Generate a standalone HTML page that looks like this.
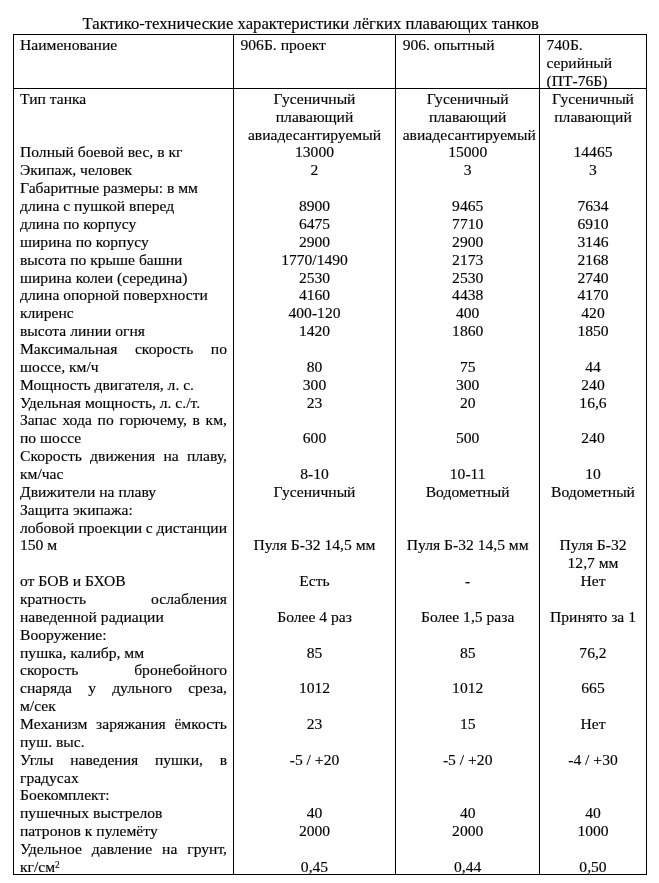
<!DOCTYPE html>
<html><head><meta charset="utf-8">
<style>
html,body{margin:0;padding:0;background:#fff;}
body{width:659px;height:883px;position:relative;overflow:hidden;font-family:"Liberation Serif",serif;color:#000;}
.t{position:absolute;-webkit-text-stroke:0.15px #000;font-size:15.6px;line-height:17.86px;height:17.86px;white-space:nowrap;}
.c{text-align:center;}
.j{display:flex;justify-content:space-between;}
.ttl{position:absolute;-webkit-text-stroke:0.15px #000;font-size:16.66px;line-height:20px;white-space:nowrap;}
.h{position:absolute;height:1px;background:#000;}
.v{position:absolute;width:1px;background:#000;}
sup{font-size:0.6em;line-height:0;vertical-align:0.45em;}
#pg{position:absolute;left:0;top:0;width:659px;height:883px;will-change:transform;}
</style></head><body><div id="pg">
<div class="ttl" style="top:14.20px;left:82.5px">Тактико-технические характеристики лёгких плавающих танков</div>
<div class="h" style="top:34px;left:13px;width:634px"></div>
<div class="h" style="top:88px;left:13px;width:634px"></div>
<div class="h" style="top:874px;left:13px;width:634px"></div>
<div class="v" style="top:34px;left:13px;height:841px"></div>
<div class="v" style="top:34px;left:233px;height:841px"></div>
<div class="v" style="top:34px;left:395px;height:841px"></div>
<div class="v" style="top:34px;left:539px;height:841px"></div>
<div class="v" style="top:34px;left:646px;height:841px"></div>
<div class="t " style="top:36.00px;left:20px;width:207px">Наименование</div>
<div class="t " style="top:36.00px;left:240.5px;width:148px">906Б. проект</div>
<div class="t " style="top:36.00px;left:402.7px;width:130px">906. опытный</div>
<div class="t " style="top:36.00px;left:546.5px;width:93px">740Б.</div>
<div class="t " style="top:53.90px;left:546.5px;width:93px">серийный</div>
<div class="t " style="top:71.80px;left:546.5px;width:93px">(ПТ-76Б)</div>
<div class="t " style="top:89.90px;left:20px;width:207px">Тип танка</div>
<div class="t c" style="top:89.90px;left:240.5px;width:148px">Гусеничный</div>
<div class="t c" style="top:89.90px;left:402.7px;width:130px">Гусеничный</div>
<div class="t c" style="top:89.90px;left:546.5px;width:93px">Гусеничный</div>
<div class="t c" style="top:107.76px;left:240.5px;width:148px">плавающий</div>
<div class="t c" style="top:107.76px;left:402.7px;width:130px">плавающий</div>
<div class="t c" style="top:107.76px;left:546.5px;width:93px">плавающий</div>
<div class="t c" style="top:125.62px;left:240.5px;width:148px">авиадесантируемый</div>
<div class="t c" style="top:125.62px;left:402.7px;width:130px">авиадесантируемый</div>
<div class="t " style="top:143.48px;left:20px;width:207px">Полный боевой вес, в кг</div>
<div class="t c" style="top:143.48px;left:240.5px;width:148px">13000</div>
<div class="t c" style="top:143.48px;left:402.7px;width:130px">15000</div>
<div class="t c" style="top:143.48px;left:546.5px;width:93px">14465</div>
<div class="t " style="top:161.34px;left:20px;width:207px">Экипаж, человек</div>
<div class="t c" style="top:161.34px;left:240.5px;width:148px">2</div>
<div class="t c" style="top:161.34px;left:402.7px;width:130px">3</div>
<div class="t c" style="top:161.34px;left:546.5px;width:93px">3</div>
<div class="t " style="top:179.20px;left:20px;width:207px">Габаритные размеры: в мм</div>
<div class="t " style="top:197.06px;left:20px;width:207px">длина с пушкой вперед</div>
<div class="t c" style="top:197.06px;left:240.5px;width:148px">8900</div>
<div class="t c" style="top:197.06px;left:402.7px;width:130px">9465</div>
<div class="t c" style="top:197.06px;left:546.5px;width:93px">7634</div>
<div class="t " style="top:214.92px;left:20px;width:207px">длина по корпусу</div>
<div class="t c" style="top:214.92px;left:240.5px;width:148px">6475</div>
<div class="t c" style="top:214.92px;left:402.7px;width:130px">7710</div>
<div class="t c" style="top:214.92px;left:546.5px;width:93px">6910</div>
<div class="t " style="top:232.78px;left:20px;width:207px">ширина по корпусу</div>
<div class="t c" style="top:232.78px;left:240.5px;width:148px">2900</div>
<div class="t c" style="top:232.78px;left:402.7px;width:130px">2900</div>
<div class="t c" style="top:232.78px;left:546.5px;width:93px">3146</div>
<div class="t " style="top:250.64px;left:20px;width:207px">высота по крыше башни</div>
<div class="t c" style="top:250.64px;left:240.5px;width:148px">1770/1490</div>
<div class="t c" style="top:250.64px;left:402.7px;width:130px">2173</div>
<div class="t c" style="top:250.64px;left:546.5px;width:93px">2168</div>
<div class="t " style="top:268.50px;left:20px;width:207px">ширина колеи (середина)</div>
<div class="t c" style="top:268.50px;left:240.5px;width:148px">2530</div>
<div class="t c" style="top:268.50px;left:402.7px;width:130px">2530</div>
<div class="t c" style="top:268.50px;left:546.5px;width:93px">2740</div>
<div class="t " style="top:286.36px;left:20px;width:207px">длина опорной поверхности</div>
<div class="t c" style="top:286.36px;left:240.5px;width:148px">4160</div>
<div class="t c" style="top:286.36px;left:402.7px;width:130px">4438</div>
<div class="t c" style="top:286.36px;left:546.5px;width:93px">4170</div>
<div class="t " style="top:304.22px;left:20px;width:207px">клиренс</div>
<div class="t c" style="top:304.22px;left:240.5px;width:148px">400-120</div>
<div class="t c" style="top:304.22px;left:402.7px;width:130px">400</div>
<div class="t c" style="top:304.22px;left:546.5px;width:93px">420</div>
<div class="t " style="top:322.08px;left:20px;width:207px">высота линии огня</div>
<div class="t c" style="top:322.08px;left:240.5px;width:148px">1420</div>
<div class="t c" style="top:322.08px;left:402.7px;width:130px">1860</div>
<div class="t c" style="top:322.08px;left:546.5px;width:93px">1850</div>
<div class="t j" style="top:339.94px;left:20px;width:207px"><span>Максимальная</span><span>скорость</span><span>по</span></div>
<div class="t " style="top:357.80px;left:20px;width:207px">шоссе, км/ч</div>
<div class="t c" style="top:357.80px;left:240.5px;width:148px">80</div>
<div class="t c" style="top:357.80px;left:402.7px;width:130px">75</div>
<div class="t c" style="top:357.80px;left:546.5px;width:93px">44</div>
<div class="t " style="top:375.66px;left:20px;width:207px">Мощность двигателя, л. с.</div>
<div class="t c" style="top:375.66px;left:240.5px;width:148px">300</div>
<div class="t c" style="top:375.66px;left:402.7px;width:130px">300</div>
<div class="t c" style="top:375.66px;left:546.5px;width:93px">240</div>
<div class="t " style="top:393.52px;left:20px;width:207px">Удельная мощность, л. с./т.</div>
<div class="t c" style="top:393.52px;left:240.5px;width:148px">23</div>
<div class="t c" style="top:393.52px;left:402.7px;width:130px">20</div>
<div class="t c" style="top:393.52px;left:546.5px;width:93px">16,6</div>
<div class="t j" style="top:411.38px;left:20px;width:207px"><span>Запас</span><span>хода</span><span>по</span><span>горючему,</span><span>в</span><span>км,</span></div>
<div class="t " style="top:429.24px;left:20px;width:207px">по шоссе</div>
<div class="t c" style="top:429.24px;left:240.5px;width:148px">600</div>
<div class="t c" style="top:429.24px;left:402.7px;width:130px">500</div>
<div class="t c" style="top:429.24px;left:546.5px;width:93px">240</div>
<div class="t j" style="top:447.10px;left:20px;width:207px"><span>Скорость</span><span>движения</span><span>на</span><span>плаву,</span></div>
<div class="t " style="top:464.96px;left:20px;width:207px">км/час</div>
<div class="t c" style="top:464.96px;left:240.5px;width:148px">8-10</div>
<div class="t c" style="top:464.96px;left:402.7px;width:130px">10-11</div>
<div class="t c" style="top:464.96px;left:546.5px;width:93px">10</div>
<div class="t " style="top:482.82px;left:20px;width:207px">Движители на плаву</div>
<div class="t c" style="top:482.82px;left:240.5px;width:148px">Гусеничный</div>
<div class="t c" style="top:482.82px;left:402.7px;width:130px">Водометный</div>
<div class="t c" style="top:482.82px;left:546.5px;width:93px">Водометный</div>
<div class="t " style="top:500.68px;left:20px;width:207px">Защита экипажа:</div>
<div class="t j" style="top:518.54px;left:20px;width:207px"><span>лобовой</span><span>проекции</span><span>с</span><span>дистанции</span></div>
<div class="t " style="top:536.40px;left:20px;width:207px">150 м</div>
<div class="t c" style="top:536.40px;left:240.5px;width:148px">Пуля Б-32 14,5 мм</div>
<div class="t c" style="top:536.40px;left:402.7px;width:130px">Пуля Б-32 14,5 мм</div>
<div class="t c" style="top:536.40px;left:546.5px;width:93px">Пуля Б-32</div>
<div class="t c" style="top:554.26px;left:546.5px;width:93px">12,7 мм</div>
<div class="t " style="top:572.12px;left:20px;width:207px">от БОВ и БХОВ</div>
<div class="t c" style="top:572.12px;left:240.5px;width:148px">Есть</div>
<div class="t c" style="top:572.12px;left:402.7px;width:130px">-</div>
<div class="t c" style="top:572.12px;left:546.5px;width:93px">Нет</div>
<div class="t j" style="top:589.98px;left:20px;width:207px"><span>кратность</span><span>ослабления</span></div>
<div class="t " style="top:607.84px;left:20px;width:207px">наведенной радиации</div>
<div class="t c" style="top:607.84px;left:240.5px;width:148px">Более 4 раз</div>
<div class="t c" style="top:607.84px;left:402.7px;width:130px">Более 1,5 раза</div>
<div class="t c" style="top:607.84px;left:546.5px;width:93px">Принято за 1</div>
<div class="t " style="top:625.70px;left:20px;width:207px">Вооружение:</div>
<div class="t " style="top:643.56px;left:20px;width:207px">пушка, калибр, мм</div>
<div class="t c" style="top:643.56px;left:240.5px;width:148px">85</div>
<div class="t c" style="top:643.56px;left:402.7px;width:130px">85</div>
<div class="t c" style="top:643.56px;left:546.5px;width:93px">76,2</div>
<div class="t j" style="top:661.42px;left:20px;width:207px"><span>скорость</span><span>бронебойного</span></div>
<div class="t j" style="top:679.28px;left:20px;width:207px"><span>снаряда</span><span>у</span><span>дульного</span><span>среза,</span></div>
<div class="t c" style="top:679.28px;left:240.5px;width:148px">1012</div>
<div class="t c" style="top:679.28px;left:402.7px;width:130px">1012</div>
<div class="t c" style="top:679.28px;left:546.5px;width:93px">665</div>
<div class="t " style="top:697.14px;left:20px;width:207px">м/сек</div>
<div class="t j" style="top:715.00px;left:20px;width:207px"><span>Механизм</span><span>заряжания</span><span>ёмкость</span></div>
<div class="t c" style="top:715.00px;left:240.5px;width:148px">23</div>
<div class="t c" style="top:715.00px;left:402.7px;width:130px">15</div>
<div class="t c" style="top:715.00px;left:546.5px;width:93px">Нет</div>
<div class="t " style="top:732.86px;left:20px;width:207px">пуш. выс.</div>
<div class="t j" style="top:750.72px;left:20px;width:207px"><span>Углы</span><span>наведения</span><span>пушки,</span><span>в</span></div>
<div class="t c" style="top:750.72px;left:240.5px;width:148px">-5 / +20</div>
<div class="t c" style="top:750.72px;left:402.7px;width:130px">-5 / +20</div>
<div class="t c" style="top:750.72px;left:546.5px;width:93px">-4 / +30</div>
<div class="t " style="top:768.58px;left:20px;width:207px">градусах</div>
<div class="t " style="top:786.44px;left:20px;width:207px">Боекомплект:</div>
<div class="t " style="top:804.30px;left:20px;width:207px">пушечных выстрелов</div>
<div class="t c" style="top:804.30px;left:240.5px;width:148px">40</div>
<div class="t c" style="top:804.30px;left:402.7px;width:130px">40</div>
<div class="t c" style="top:804.30px;left:546.5px;width:93px">40</div>
<div class="t " style="top:822.16px;left:20px;width:207px">патронов к пулемёту</div>
<div class="t c" style="top:822.16px;left:240.5px;width:148px">2000</div>
<div class="t c" style="top:822.16px;left:402.7px;width:130px">2000</div>
<div class="t c" style="top:822.16px;left:546.5px;width:93px">1000</div>
<div class="t j" style="top:840.02px;left:20px;width:207px"><span>Удельное</span><span>давление</span><span>на</span><span>грунт,</span></div>
<div class="t " style="top:857.88px;left:20px;width:207px">кг/см<sup>2</sup></div>
<div class="t c" style="top:857.88px;left:240.5px;width:148px">0,45</div>
<div class="t c" style="top:857.88px;left:402.7px;width:130px">0,44</div>
<div class="t c" style="top:857.88px;left:546.5px;width:93px">0,50</div>
</div></body></html>
